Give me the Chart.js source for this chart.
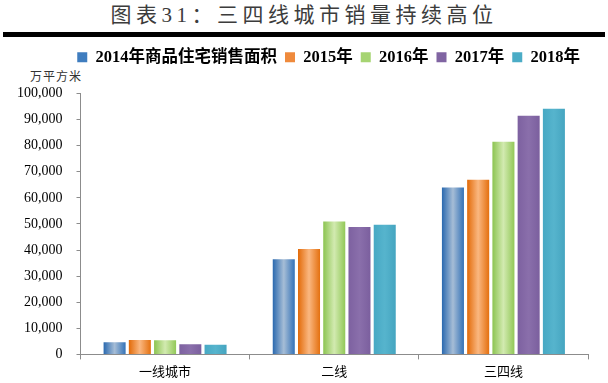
<!DOCTYPE html>
<html><head><meta charset="utf-8">
<script src="https://cdn.jsdelivr.net/npm/chart.js@4/dist/chart.umd.min.js"></script>
<style>
html,body{margin:0;padding:0;background:#fff;}
#wrap{position:relative;width:608px;height:383px;overflow:hidden;}
#title{position:absolute;left:0;top:2px;width:608px;text-align:center;font:21px "Liberation Serif","Noto Sans CJK SC";letter-spacing:4.5px;color:#3c3c3c;line-height:26px;}
#rule{position:absolute;left:3px;top:32px;width:602px;height:5px;background:#000;}
#unit{position:absolute;left:30px;top:67px;font:12px "Noto Sans CJK SC";letter-spacing:1px;color:#333;}
#cv{position:absolute;left:0;top:40px;}
</style></head>
<body><div id="wrap">
<div id="title">图表31：三四线城市销量持续高位</div>
<div id="rule"></div>
<div id="unit">万平方米</div>
<canvas id="cv" width="608" height="343"></canvas>
</div>
<script>
const categories = ['一线城市', '二线', '三四线'];
const seriesNames = ['2014年商品住宅销售面积', '2015年', '2016年', '2017年', '2018年'];
const s2014 = [4700, 36500, 64000];
const s2015 = [5500, 40400, 66900];
const s2016 = [5400, 50900, 81500];
const s2017 = [3900, 48800, 91500];
const s2018 = [3700, 49700, 94200];
const yTicks = [0, 10000, 20000, 30000, 40000, 50000, 60000, 70000, 80000, 90000, 100000];

const seriesValues = [s2014, s2015, s2016, s2017, s2018];
const shades = [
  ['#2a69af', '#a6bdd6', '#3472b7'],
  ['#e26a08', '#fab780', '#e4700f'],
  ['#8cc451', '#d2eab0', '#92c858'],
  ['#7d61a0', '#8a6fab', '#7b5f9e'],
  ['#47a9c4', '#56b4cd', '#45a5c0']
];
const legendColors = ['#3f7dbf', '#ef8a3c', '#a6d472', '#8064a2', '#4bacc6'];
const CAT_PCT = 0.746, BAR_PCT = 0.873;

function barFill(ctx) {
  const chart = ctx.chart, x = chart.scales.x;
  if (!x || ctx.type !== 'data') return legendColors[ctx.datasetIndex];
  const n = seriesValues.length;
  const catW = x.width / categories.length;
  const group = catW * CAT_PCT, slot = group / n;
  const cx = x.getPixelForValue(ctx.dataIndex) - group / 2 + slot * (ctx.datasetIndex + 0.5);
  const w = slot * BAR_PCT;
  const sh = shades[ctx.datasetIndex];
  const g = chart.ctx.createLinearGradient(cx - w / 2, 0, cx + w / 2, 0);
  g.addColorStop(0, sh[0]);
  g.addColorStop(0.5, sh[1]);
  g.addColorStop(1, sh[2]);
  return g;
}

const legendSpacer = {
  id: 'legendSpacer',
  beforeInit(chart) {
    const fit = chart.legend.fit;
    chart.legend.fit = function () { fit.call(this); this.height += 18; };
  }
};

new Chart(document.getElementById('cv'), {
  type: 'bar',
  data: {
    labels: categories,
    datasets: seriesValues.map((v, i) => ({
      label: seriesNames[i],
      data: v,
      backgroundColor: barFill,
      borderWidth: 0,
      categoryPercentage: CAT_PCT,
      barPercentage: BAR_PCT
    }))
  },
  options: {
    responsive: false,
    animation: false,
    layout: { padding: { left: 3, right: 20, top: 1, bottom: 0 } },
    plugins: {
      legend: {
        position: 'top',
        align: 'end',
        labels: {
          boxWidth: 10, boxHeight: 10, padding: 8, color: '#000',
          font: { family: '"Liberation Serif", "Noto Sans CJK SC"', size: 16.5, weight: 'bold' },
          generateLabels(chart) {
            return chart.data.datasets.map((d, i) => ({
              text: d.label, fillStyle: legendColors[i], strokeStyle: legendColors[i],
              lineWidth: 0, hidden: false, datasetIndex: i, fontColor: '#000'
            }));
          }
        }
      },
      tooltip: { enabled: false }
    },
    scales: {
      x: {
        grid: { display: true, drawOnChartArea: false, tickLength: 5, color: '#8c8c8c', offset: true },
        border: { color: '#8c8c8c', width: 1 },
        ticks: { color: '#000', padding: 4, font: { family: '"Noto Sans CJK SC"', size: 13 } }
      },
      y: {
        min: 0, max: 100000,
        afterBuildTicks(scale) { scale.ticks = yTicks.map(v => ({ value: v })); },
        grid: { display: true, drawOnChartArea: false, tickLength: 4, color: '#8c8c8c' },
        border: { color: '#8c8c8c', width: 1 },
        ticks: {
          color: '#000', padding: 14,
          font: { family: '"Liberation Serif"', size: 14 },
          callback: v => v.toLocaleString('en-US')
        }
      }
    }
  },
  plugins: [legendSpacer]
});
</script>
</body></html>
